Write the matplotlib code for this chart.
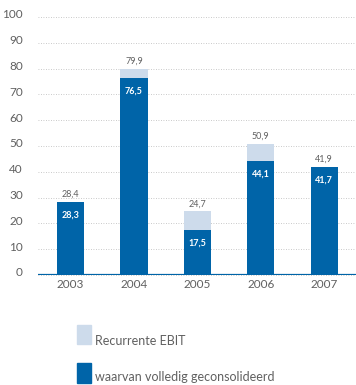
import matplotlib.pyplot as plt
import matplotlib.transforms as mtransforms
import numpy as np
from matplotlib.patches import Rectangle

plt.rcParams['font.family'] = ['Lato', 'DejaVu Sans']

# data
jaren = ['2003', '2004', '2005', '2006', '2007']
recurrente_ebit = [28.4, 79.9, 24.7, 50.9, 41.9]
geconsolideerd = [28.3, 76.5, 17.5, 44.1, 41.7]
y_ticks = [0, 10, 20, 30, 40, 50, 60, 70, 80, 90, 100]

donker = '#0064a8'
licht = '#cddbeb'
grijs = '#606060'

fig = plt.figure(figsize=(3.56, 3.85), dpi=100)
ax = fig.add_axes([0.107, 0.286, 0.893, 0.670])

x = np.arange(len(jaren))
w = 0.43
ax.bar(x, recurrente_ebit, width=w, color=licht, zorder=3)
ax.bar(x, geconsolideerd, width=w, color=donker, zorder=4)

for i in range(len(jaren)):
    ax.annotate(f'{recurrente_ebit[i]:.1f}'.replace('.', ','), (x[i], recurrente_ebit[i]),
                xytext=(0, 2), textcoords='offset points', ha='center', va='bottom',
                fontsize=6.5, color=grijs)
    ax.annotate(f'{geconsolideerd[i]:.1f}'.replace('.', ','), (x[i], geconsolideerd[i]),
                xytext=(0, -9.5), textcoords='offset points', ha='center', va='center',
                fontsize=6.5, color='white', fontweight='bold', zorder=5)

ax.set_xlim(-0.51, 4.5)
ax.set_ylim(0, 100)
ax.set_yticks(y_ticks)
ax.set_xticks(x)
ax.set_xticklabels(jaren)
ax.tick_params(axis='both', length=0, colors=grijs, labelsize=8.5)
ax.tick_params(axis='y', pad=11)
ax.tick_params(axis='x', pad=3)
# labels iets boven de lijnen
shift = mtransforms.ScaledTranslation(0, 3 / 100, fig.dpi_scale_trans)
for lbl in ax.get_yticklabels():
    lbl.set_transform(lbl.get_transform() + shift)
for s in ax.spines.values():
    s.set_visible(False)
ax.grid(axis='y', linestyle=(0, (1, 2)), color='#b8b8b8', linewidth=0.6, zorder=0)
for gl in ax.get_ygridlines():
    gl.set_clip_on(False)
ax.axhline(0, color=donker, linewidth=1.6, zorder=6)

# legenda
fig.patches.append(Rectangle((77 / 356, 1 - 344 / 385), 14 / 356, 19 / 385,
                             transform=fig.transFigure, color=licht))
fig.patches.append(Rectangle((77 / 356, 1 - 383 / 385), 14 / 356, 20 / 385,
                             transform=fig.transFigure, color=donker))
fig.text(95 / 356, 1 - 345 / 385, 'Recurrente EBIT', fontsize=9, color=grijs, va='baseline')
fig.text(95 / 356, 1 - 381 / 385, 'waarvan volledig geconsolideerd', fontsize=9, color=grijs, va='baseline')

fig.savefig('out.png', dpi=100)
